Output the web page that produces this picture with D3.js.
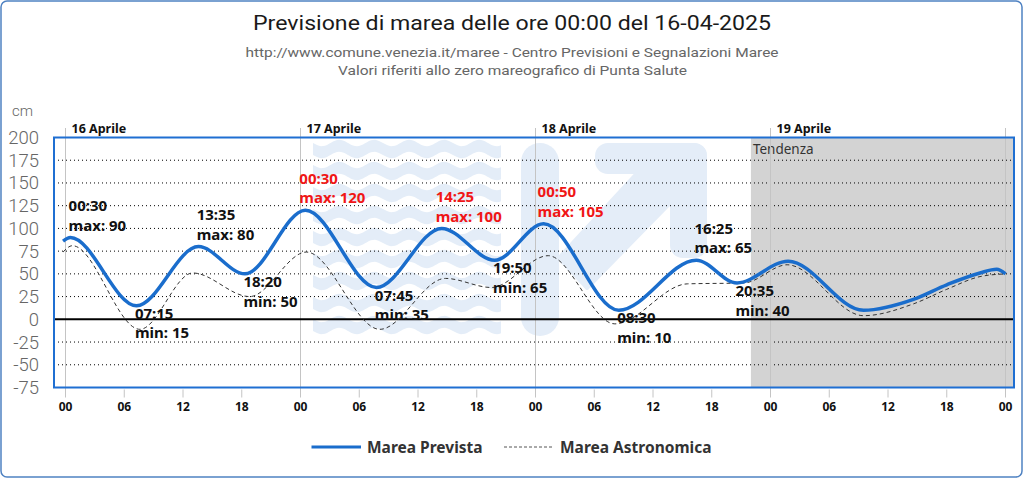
<!DOCTYPE html>
<html><head><meta charset="utf-8">
<script src="https://cdn.jsdelivr.net/npm/d3@7"></script>
<style>html,body{margin:0;padding:0;background:#fff;} svg{display:block}</style>
</head><body><svg id="c" width="1024" height="480"></svg>
<script>
// ---------- DATA ----------
const titleText = "Previsione di marea delle ore 00:00 del 16-04-2025";
const subtitle1 = "http://www.comune.venezia.it/maree - Centro Previsioni e Segnalazioni Maree";
const subtitle2 = "Valori riferiti allo zero mareografico di Punta Salute";
const yUnit = "cm";
const yTicks = [200, 175, 150, 125, 100, 75, 50, 25, 0, -25, -50, -75];
const hourTicks = [0, 6, 12, 18, 24, 30, 36, 42, 48, 54, 60, 66, 72, 78, 84, 90, 96];
const hourTickLabels = ["00", "06", "12", "18", "00", "06", "12", "18", "00", "06", "12", "18", "00", "06", "12", "18", "00"];
const dayHours = [0, 24, 48, 72];
const dayLabels = ["16 Aprile", "17 Aprile", "18 Aprile", "19 Aprile"];
const trendStartHour = 70;
const trendLabel = "Tendenza";

// Marea Prevista (hours from 16-04 00:00, cm)
const predHours  = [-0.25, 0.5, 7.25, 13.58, 18.33, 24.5, 31.75, 38.42, 43.83, 48.83, 56.5, 64.42, 68.58, 73.8, 81.5, 86.6, 90, 93.4, 95.1, 96];
const predValues = [86,    90,  15,   80,    50,    120,  35,    100,   65,    105,   10,   65,    40,    64,   10,   22,   38, 51,   55,   50];

// Marea Astronomica
const astroHours  = [-0.25, 0.7, 7.6, 13.0, 18.8, 24.6, 32.1, 38.8, 43.5, 49.3, 56.1, 63.5, 69.3, 73.7, 81.5, 86.6, 90, 93.4, 96];
const astroValues = [74,    81,  -11, 51,   25,   74,   -11,  45,   35,   70,   -5,   39,   40,   60,   4,    17,   33, 47,   50];

// Extremes annotated
const extremeTimes  = ["00:30", "07:15", "13:35", "18:20", "00:30", "07:45", "14:25", "19:50", "00:50", "08:30", "16:25", "20:35"];
const extremeHours  = [0.5, 7.25, 13.58, 18.33, 24.5, 31.75, 38.42, 43.83, 48.83, 56.5, 64.42, 68.58];
const extremeValues = [90, 15, 80, 50, 120, 35, 100, 65, 105, 10, 65, 40];
const extremeKinds  = ["max", "min", "max", "min", "max", "min", "max", "min", "max", "min", "max", "min"];
const alertLevel = 100;

const legendLabels = ["Marea Prevista", "Marea Astronomica"];

// ---------- LAYOUT ----------
const W = 1024, H = 480;
const plotL = 54, plotR = 1014, plotT = 137.5, plotB = 387.5;
const BLUE = "#1a6dcc", RED = "#f01616", WM = "#e4edf8";
const FONT = "'Noto Sans', 'Open Sans', sans-serif";

const svg = d3.select("#c");
const x = d3.scaleLinear().domain([0, 96]).range([65.5, 1005.5]);
const y = d3.scaleLinear().domain([-75, 200]).range([plotB, plotT]);

// outer frame
svg.append("rect").attr("x", 1).attr("y", 1).attr("width", W - 3).attr("height", H - 4)
  .attr("rx", 6).attr("fill", "#fff").attr("stroke", "#4f82c2").attr("stroke-width", 1.5);

// titles
function fitText(sel, w) { sel.attr("textLength", w).attr("lengthAdjust", "spacingAndGlyphs"); return sel; }
fitText(svg.append("text").attr("x", 512).attr("y", 29.5).attr("text-anchor", "middle")
  .attr("font-family", "'Liberation Sans Narrow', 'Roboto', sans-serif").attr("font-size", 20)
  .attr("fill", "#1a1a1a").text(titleText), 518);
fitText(svg.append("text").attr("x", 512).attr("y", 57).attr("text-anchor", "middle")
  .attr("font-family", "'Liberation Sans Narrow', 'Roboto', sans-serif").attr("font-size", 13.5)
  .attr("fill", "#666").text(subtitle1), 533);
fitText(svg.append("text").attr("x", 512.5).attr("y", 75).attr("text-anchor", "middle")
  .attr("font-family", "'Liberation Sans Narrow', 'Roboto', sans-serif").attr("font-size", 13.5)
  .attr("fill", "#666").text(subtitle2), 349);

// y unit
svg.append("text").attr("x", 12).attr("y", 116).attr("font-family", "Roboto, sans-serif")
  .attr("font-weight", 300).attr("font-size", 15).attr("fill", "#666").text(yUnit);

// trend shading
svg.append("rect").attr("x", x(trendStartHour)).attr("y", plotT)
  .attr("width", plotR - x(trendStartHour)).attr("height", plotB - plotT).attr("fill", "#d3d3d3");
svg.append("text").attr("x", x(trendStartHour) + 2).attr("y", 154).attr("font-family", FONT)
  .attr("font-size", 13.5).attr("fill", "#333").text(trendLabel);

// watermark (decorative)
const wm = svg.append("g").attr("fill", WM);
const wx0 = 313, wx1 = 502;
for (let i = 0; i < 9; i++) {
  const yt = 143 + i * 22;
  const top = [], bot = [];
  for (let px = wx0; px <= wx1; px += 2) {
    const dy = 3.2 * Math.sin((px - wx0) / 35 * 2 * Math.PI);
    top.push([px, yt + dy]);
    bot.push([px, yt + 12 + dy]);
  }
  wm.append("path").attr("d", d3.line()(top.concat(bot.reverse())) + "Z");
}
wm.append("rect").attr("x", 521).attr("y", 143).attr("width", 38).attr("height", 193).attr("rx", 19);
wm.append("path").attr("d", "M640,170 L690,170 L690,203 L670,203 L587,288 L559,258 Z")
  .attr("stroke", WM).attr("stroke-width", 4).attr("stroke-linejoin", "round");
wm.append("rect").attr("x", 595).attr("y", 143).attr("width", 112).attr("height", 31).attr("rx", 13);
wm.append("rect").attr("x", 670).attr("y", 143).attr("width", 37).attr("height", 115).attr("rx", 13);

// grid lines
svg.append("g").selectAll("line").data(yTicks.filter(v => v !== 0 && v !== 200 && v !== -75)).join("line")
  .attr("x1", plotL).attr("x2", plotR).attr("y1", d => y(d)).attr("y2", d => y(d))
  .attr("stroke", "#000").attr("stroke-width", 1).attr("stroke-dasharray", "1,3");

// vertical day lines and hour ticks
svg.append("g").selectAll("line").data(hourTicks).join("line")
  .attr("x1", d => x(d)).attr("x2", d => x(d))
  .attr("y1", d => d % 24 === 0 ? 128 : plotB + 2).attr("y2", plotB + 10)
  .attr("stroke", "#c4c4c4").attr("stroke-width", 1);

// day labels
svg.append("g").selectAll("text").data(dayHours).join("text")
  .attr("x", d => x(d) + 6).attr("y", 132.5).attr("font-family", FONT).attr("font-weight", 700)
  .attr("font-size", 12.5).attr("fill", "#111").text((d, i) => dayLabels[i]);

// y tick labels
svg.append("g").selectAll("text").data(yTicks).join("text")
  .attr("x", 39).attr("y", d => y(d)).attr("dy", "0.35em").attr("text-anchor", "end")
  .attr("font-family", "Roboto, sans-serif").attr("font-weight", 300).attr("font-size", 18.5)
  .attr("fill", "#666").text(d => d);

// x tick labels
svg.append("g").selectAll("text").data(hourTicks).join("text")
  .attr("x", d => x(d)).attr("y", 410.5).attr("text-anchor", "middle")
  .attr("font-family", FONT).attr("font-weight", 700).attr("font-size", 12)
  .attr("fill", "#111").text((d, i) => hourTickLabels[i]);

// zero line
svg.append("line").attr("x1", plotL).attr("x2", plotR).attr("y1", y(0)).attr("y2", y(0))
  .attr("stroke", "#000").attr("stroke-width", 2);

// series
const line = d3.line().x(d => x(d[0])).y(d => y(d[1])).curve(d3.curveMonotoneX);
svg.append("path").datum(astroHours.map((h, i) => [h, astroValues[i]])).attr("d", line)
  .attr("fill", "none").attr("stroke", "#333").attr("stroke-width", 1).attr("stroke-dasharray", "4,3");
svg.append("path").datum(predHours.map((h, i) => [h, predValues[i]])).attr("d", line)
  .attr("fill", "none").attr("stroke", BLUE).attr("stroke-width", 3.5).attr("stroke-linejoin", "round");

// annotations
extremeHours.forEach((h, i) => {
  const v = extremeValues[i], kind = extremeKinds[i];
  const color = (kind === "max" && v >= alertLevel) ? RED : "#111";
  const g = svg.append("g").attr("font-family", FONT).attr("font-weight", 700)
    .attr("font-size", 15).attr("fill", color);
  const b1 = kind === "max" ? y(v) - 26.5 : y(v) + 13;
  const t1 = g.append("text").attr("y", b1).text(extremeTimes[i]);
  const t2 = g.append("text").attr("y", b1 + 19.7).text(kind + ": " + v);
  const w = Math.max(t1.node().getComputedTextLength(), t2.node().getComputedTextLength());
  const left = x(h) - w / 2 + (kind === "max" ? 27 : 25.5);
  t1.attr("x", left); t2.attr("x", left);
});

// plot border
svg.append("rect").attr("x", plotL).attr("y", plotT).attr("width", plotR - plotL).attr("height", plotB - plotT)
  .attr("fill", "none").attr("stroke", "#1f6fd2").attr("stroke-width", 2);

// legend
const lg = svg.append("g").attr("font-family", FONT).attr("font-weight", 700).attr("font-size", 15.5).attr("fill", "#333");
lg.append("line").attr("x1", 311.5).attr("x2", 361).attr("y1", 447).attr("y2", 447).attr("stroke", BLUE).attr("stroke-width", 3);
lg.append("text").attr("x", 367).attr("y", 452.5).text(legendLabels[0]);
lg.append("line").attr("x1", 504).attr("x2", 553).attr("y1", 447).attr("y2", 447).attr("stroke", "#555").attr("stroke-width", 1).attr("stroke-dasharray", "3,2");
lg.append("text").attr("x", 560).attr("y", 452.5).text(legendLabels[1]);
</script></body></html>
